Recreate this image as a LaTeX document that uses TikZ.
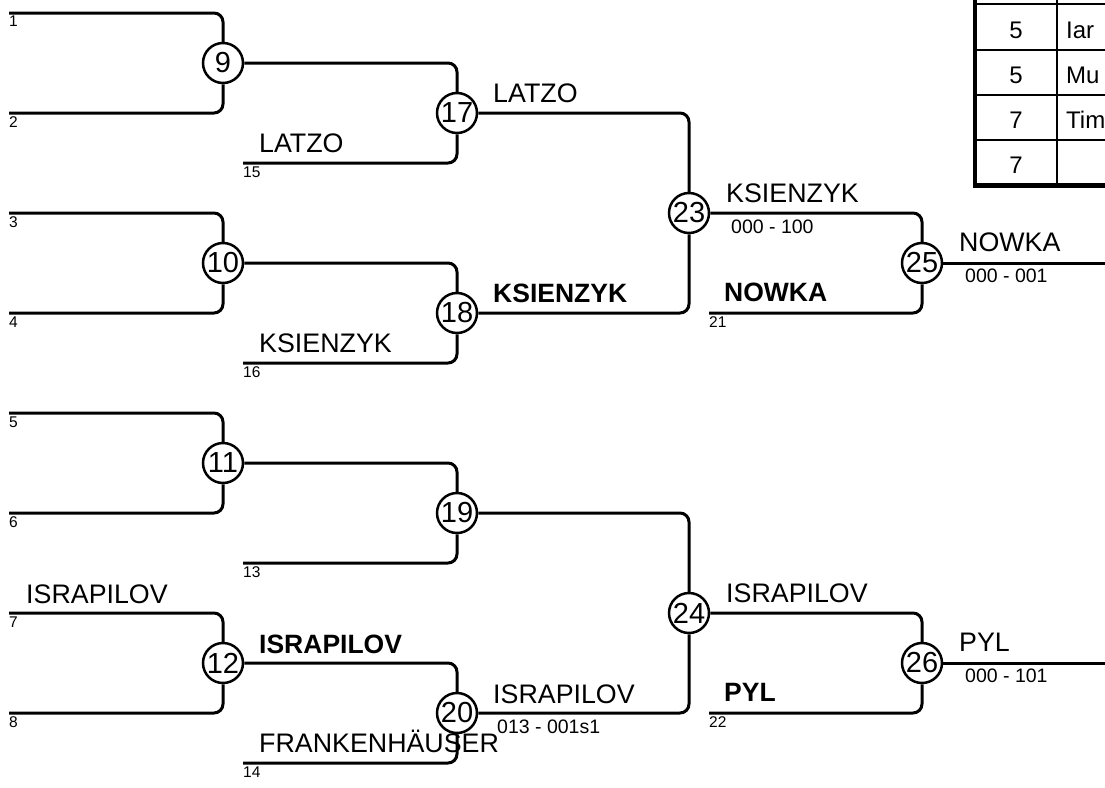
\documentclass[tikz,border=0pt]{standalone}
\usepackage{fontspec}
\setmainfont{Liberation Sans}
\tikzset{
  match/.style={
    % The shape:
    circle,
    % The size:
    minimum size=40pt,
    inner sep=0pt,
    % The border:
    draw=black,
    line width=2.5pt,
    font=\fontsize{29}{29}\selectfont},
  bracket/.style={
    draw=black,line width=3pt,rounded corners=9pt},
  player/.style={
    anchor=base west,inner sep=0pt,
    font=\fontsize{26.8}{27}\selectfont},
  winner/.style={
    anchor=base west,inner sep=0pt,
    font=\fontsize{26.5}{27}\selectfont\bfseries},
  score/.style={
    anchor=base west,inner sep=0pt,
    font=\fontsize{19.5}{20}\selectfont},
  seed/.style={
    anchor=base west,inner sep=0pt,
    font=\fontsize{15.5}{15.5}\selectfont},
  cell/.style={
    inner sep=0pt,
    font=\fontsize{24}{24}\selectfont}
}

\begin{document}
\begin{tikzpicture}[x=1pt,y=-1pt]
  \clip (0,0) rectangle (1105,787);

  % Matches:
  \node (m9)  [match] at (223,63)  {9};
  \node (m10) [match] at (223,263) {10};
  \node (m11) [match] at (223,463) {11};
  \node (m12) [match] at (223,663) {12};
  \node (m17) [match] at (457,113) {17};
  \node (m18) [match] at (457,313) {18};
  \node (m19) [match] at (457,513) {19};
  \node (m20) [match] at (457,713) {20};
  \node (m23) [match] at (689,213) {23};
  \node (m24) [match] at (689,613) {24};
  \node (m25) [match] at (922,263) {25};
  \node (m26) [match] at (922,663) {26};

  % Seed line starts:
  \coordinate (s1) at (9,13);   \coordinate (s2) at (9,113);
  \coordinate (s3) at (9,213);  \coordinate (s4) at (9,313);
  \coordinate (s5) at (9,413);  \coordinate (s6) at (9,513);
  \coordinate (s7) at (9,613);  \coordinate (s8) at (9,713);
  \coordinate (s15) at (243,163); \coordinate (s16) at (243,363);
  \coordinate (s13) at (243,563); \coordinate (s14) at (243,763);
  \coordinate (s21) at (709,313); \coordinate (s22) at (709,713);
  \coordinate (o25) at (1105,263); \coordinate (o26) at (1105,663);

  % Lines:
  \draw[bracket] (s1) -| (m9);   \draw[bracket] (s2) -| (m9);
  \draw[bracket] (s3) -| (m10);  \draw[bracket] (s4) -| (m10);
  \draw[bracket] (s5) -| (m11);  \draw[bracket] (s6) -| (m11);
  \draw[bracket] (s7) -| (m12);  \draw[bracket] (s8) -| (m12);
  \draw[bracket] (m9) -| (m17);  \draw[bracket] (s15) -| (m17);
  \draw[bracket] (m10) -| (m18); \draw[bracket] (s16) -| (m18);
  \draw[bracket] (m11) -| (m19); \draw[bracket] (s13) -| (m19);
  \draw[bracket] (m12) -| (m20); \draw[bracket] (s14) -| (m20);
  \draw[bracket] (m17) -| (m23); \draw[bracket] (m18) -| (m23);
  \draw[bracket] (m19) -| (m24); \draw[bracket] (m20) -| (m24);
  \draw[bracket] (m23) -| (m25); \draw[bracket] (s21) -| (m25);
  \draw[bracket] (m24) -| (m26); \draw[bracket] (s22) -| (m26);
  \draw[bracket] (m25) -- (o25);
  \draw[bracket] (m26) -- (o26);

  % Seed numbers:
  \node (n1) [seed] at (9,27)  {1};
  \node (n2) [seed] at (9,127) {2};
  \node (n3) [seed] at (9,227) {3};
  \node (n4) [seed] at (9,327) {4};
  \node (n5) [seed] at (9,427) {5};
  \node (n6) [seed] at (9,527) {6};
  \node (n7) [seed] at (9,627) {7};
  \node (n8) [seed] at (9,727) {8};
  \node (n15) [seed] at (243,177) {15};
  \node (n16) [seed] at (243,377) {16};
  \node (n13) [seed] at (243,577) {13};
  \node (n14) [seed] at (243,777) {14};
  \node (n21) [seed] at (709,327) {21};
  \node (n22) [seed] at (709,727) {22};

  % Names:
  \node (p15) [player] at (259,152) {LATZO};
  \node (p17) [player] at (493,102) {LATZO};
  \node (p16) [player] at (259,352) {KSIENZYK};
  \node (p18) [winner] at (493,302) {KSIENZYK};
  \node (p23) [player] at (726,202) {KSIENZYK};
  \node (p21) [winner] at (724,301) {NOWKA};
  \node (p25) [player] at (959,251) {NOWKA};
  \node (p7)  [player] at (26,603)  {ISRAPILOV};
  \node (p12) [winner] at (259,653) {ISRAPILOV};
  \node (p14) [player] at (259,752) {FRANKENHÄUSER};
  \node (p20) [player] at (493,703) {ISRAPILOV};
  \node (p24) [player] at (726,602) {ISRAPILOV};
  \node (p22) [winner] at (724,701) {PYL};
  \node (p26) [player] at (959,651) {PYL};

  % Scores:
  \node (r23) [score] at (731,233) {000 - 100};
  \node (r25) [score] at (965,282) {000 - 001};
  \node (r20) [score] at (497,733) {013 - 001s1};
  \node (r26) [score] at (965,682) {000 - 101};

  % Table:
  \draw[line width=2pt] (1057,-41) -- (1057,185);
  \draw[line width=2pt] (975,4) -- (1120,4);
  \draw[line width=2pt] (975,49.5) -- (1120,49.5);
  \draw[line width=2pt] (975,94.5) -- (1120,94.5);
  \draw[line width=2pt] (975,139.5) -- (1120,139.5);
  \draw[line width=4.5pt] (975,-41) -- (975,187.5);
  \draw[line width=5pt] (972.75,185) -- (1120,185);
  \node (c1a) [cell,anchor=base] at (1016,38) {5};
  \node (c1b) [cell,anchor=base west] at (1066,38) {Iar};
  \node (c2a) [cell,anchor=base] at (1016,83) {5};
  \node (c2b) [cell,anchor=base west] at (1066,83) {Mu};
  \node (c3a) [cell,anchor=base] at (1016,128) {7};
  \node (c3b) [cell,anchor=base west] at (1066,128) {Tim};
  \node (c4a) [cell,anchor=base] at (1016,173) {7};
\end{tikzpicture}
\end{document}
